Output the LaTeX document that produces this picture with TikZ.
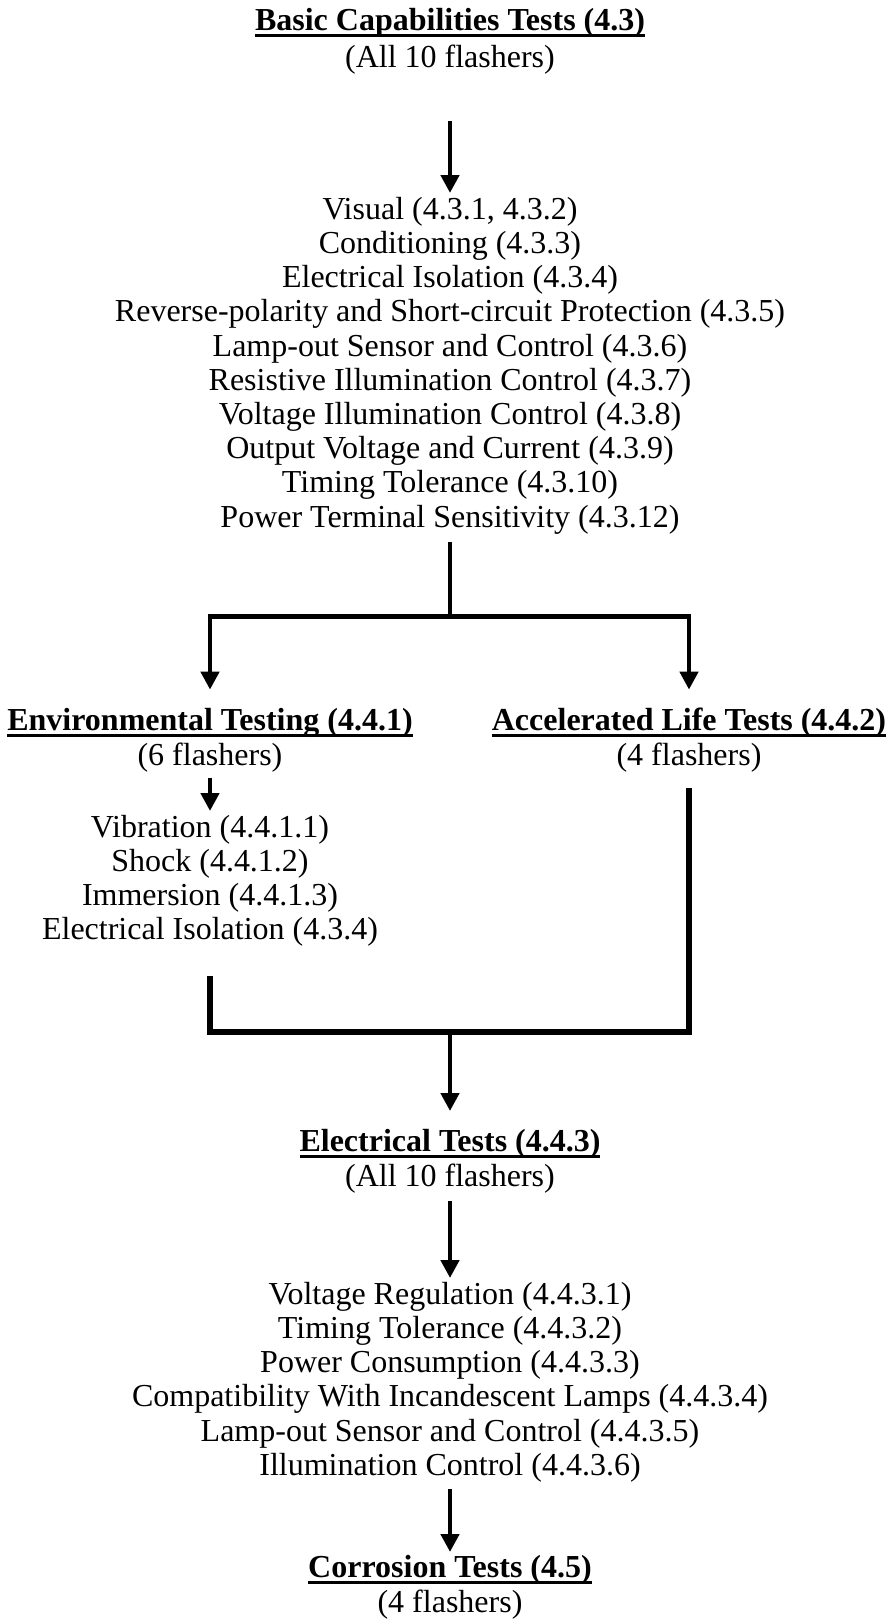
\documentclass[tikz,border=0pt]{standalone}
\usepackage{fontspec}
\setmainfont{Liberation Serif}
\usetikzlibrary{arrows.meta}
\newcommand\topstrut{\rule{0pt}{25pt}}
\newcommand\botstrut{\rule[-8pt]{0pt}{8pt}}
\newcommand\ulbold[1]{\setbox0\hbox{\bfseries #1}\rlap{\rule[-7pt]{\wd0}{3pt}}\box0}
\begin{document}
\begin{tikzpicture}[x=1pt,y=-1pt,
  txt/.style={anchor=north, align=center, inner sep=0pt, font=\fontsize{32}{34.2}\selectfont},
  head/.style={txt, font=\fontsize{32}{35}\selectfont},
  conn/.style={line width=4.6pt, line join=miter},
  arr/.style={conn, -{Triangle[width=18pt,length=18pt]}}]
\useasboundingbox (0,0) rectangle (893,1619);

\node[head, font=\fontsize{32}{37}\selectfont] (basic) at (450,5) {\topstrut\ulbold{Basic Capabilities Tests (4.3)}\\(All 10 flashers)\botstrut};

\node[txt] (list1) at (450,194) {\topstrut Visual (4.3.1, 4.3.2)\\
Conditioning (4.3.3)\\
Electrical Isolation (4.3.4)\\
Reverse-polarity and Short-circuit Protection (4.3.5)\\
Lamp-out Sensor and Control (4.3.6)\\
Resistive Illumination Control (4.3.7)\\
Voltage Illumination Control (4.3.8)\\
Output Voltage and Current (4.3.9)\\
Timing Tolerance (4.3.10)\\
Power Terminal Sensitivity (4.3.12)\botstrut};

\node[head] (env) at (210,705) {\topstrut\ulbold{Environmental Testing (4.4.1)}\\(6 flashers)\botstrut};
\node[head] (acc) at (689,705) {\topstrut\ulbold{Accelerated Life Tests (4.4.2)}\\(4 flashers)\botstrut};

\node[txt] (envlist) at (210,812) {\topstrut Vibration (4.4.1.1)\\
Shock (4.4.1.2)\\
Immersion (4.4.1.3)\\
Electrical Isolation (4.3.4)\botstrut};

\node[head] (elec) at (450,1126) {\topstrut\ulbold{Electrical Tests (4.4.3)}\\(All 10 flashers)\botstrut};

\node[txt] (list2) at (450,1279) {\topstrut Voltage Regulation (4.4.3.1)\\
Timing Tolerance (4.4.3.2)\\
Power Consumption (4.4.3.3)\\
Compatibility With Incandescent Lamps (4.4.3.4)\\
Lamp-out Sensor and Control (4.4.3.5)\\
Illumination Control (4.4.3.6)\botstrut};

\node[head] (corr) at (450,1552) {\topstrut\ulbold{Corrosion Tests (4.5)}\\(4 flashers)\botstrut};

\coordinate (split) at (450,616.3);
\coordinate (merge) at (450,1032);

\draw[arr, shorten <=46pt, shorten >=1pt] (basic.south) -- (list1.north);
\draw[conn, shorten <=7pt] (list1.south) -- (split);
\draw[arr, shorten >=15.4pt] (split) -| (env.north);
\draw[arr, shorten >=15.4pt] (split) -| (acc.north);
\draw[arr, shorten <=4.4pt, shorten >=1pt] (env.south) -- (envlist.north);
\draw[conn, line width=5.2pt] ([yshift=-28pt]envlist.south) -- (envlist.south |- merge) -- (acc.south |- merge) -- ([yshift=-14.7pt]acc.south);
\draw[arr, shorten >=15pt] (merge) -- (elec.north);
\draw[arr, shorten <=7pt, shorten >=1pt] (elec.south) -- (list2.north);
\draw[arr, shorten <=6pt] (list2.south) -- (corr.north);
\end{tikzpicture}
\end{document}
